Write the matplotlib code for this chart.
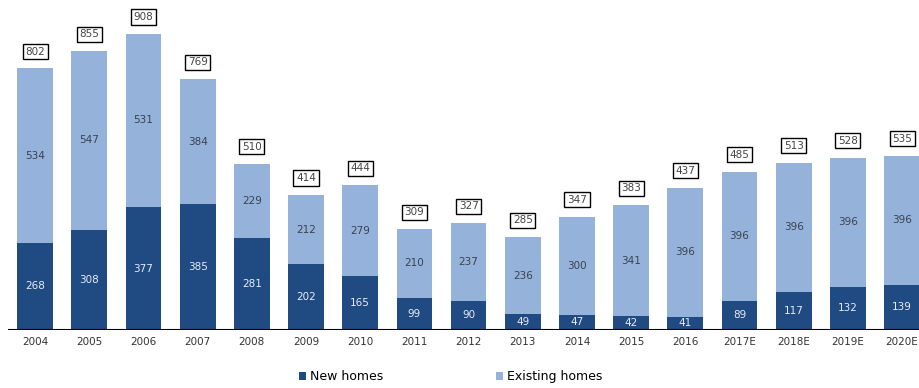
import matplotlib
matplotlib.use("Agg")
import matplotlib.pyplot as plt
import numpy as np

years = ["2004", "2005", "2006", "2007", "2008", "2009", "2010", "2011", "2012",
         "2013", "2014", "2015", "2016", "2017E", "2018E", "2019E", "2020E"]
new_homes = [268, 308, 377, 385, 281, 202, 165, 99, 90, 49, 47, 42, 41, 89, 117, 132, 139]
existing_homes = [534, 547, 531, 384, 229, 212, 279, 210, 237, 236, 300, 341, 396, 396, 396, 396, 396]
totals = [802, 855, 908, 769, 510, 414, 444, 309, 327, 285, 347, 383, 437, 485, 513, 528, 535]

DARK = "#1f4a82"
LIGHT = "#95b3da"

fig = plt.figure(figsize=(9.2, 3.88), dpi=100)
ax = fig.add_axes([8 / 920, 58 / 388, 912 / 920, 330 / 388])

x = np.arange(len(years))
w = 0.66
ax.bar(x, new_homes, w, color=DARK, label="New homes")
ax.bar(x, existing_homes, w, bottom=new_homes, color=LIGHT, label="Existing homes")

for i in x:
    n, e, t = new_homes[i], existing_homes[i], totals[i]
    ax.text(i, n / 2, str(n), ha="center", va="center", color="#e8ecf3", fontsize=7.5)
    ax.text(i, n + e / 2, str(e), ha="center", va="center", color="#3a4150", fontsize=7.5)
    ax.text(i, n + e + 52, str(t), ha="center", va="center", color="#444444", fontsize=7.5,
            bbox=dict(boxstyle="square,pad=0.25", fc="white", ec="black", lw=1.0))

ax.set_xlim(-0.5, 16.33)
ax.set_ylim(0, 1012)
ax.axhline(0, color="black", lw=1.5)
for s in ax.spines.values():
    s.set_visible(False)
ax.set_yticks([])
ax.set_xticks(x, years)
ax.tick_params(axis="x", length=0, labelsize=7.5, labelcolor="#333333", pad=5)

ax.legend(loc="lower center", bbox_to_anchor=(0.485, -0.195), ncol=2, frameon=False,
          fontsize=9, handlelength=0.6, handleheight=0.6, columnspacing=9, handletextpad=0.3)

fig.savefig("out.png", dpi=100)
